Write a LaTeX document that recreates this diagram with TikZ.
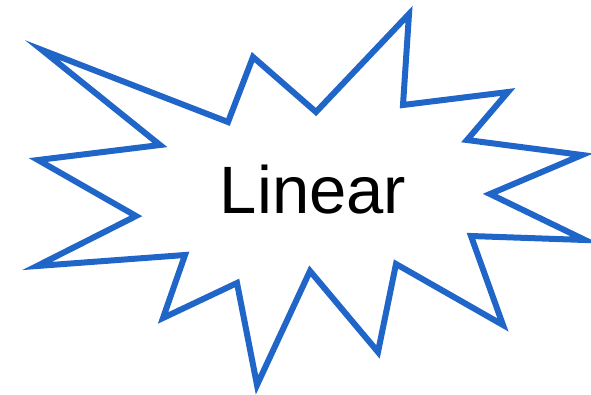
\documentclass[tikz,border=0pt]{standalone}
\usepackage{fontspec}
\setmainfont{Liberation Sans}
\definecolor{burstblue}{RGB}{32,102,200}
\begin{document}
\begin{tikzpicture}[x=1pt,y=-1pt,
  burst/.style={draw=burstblue,line width=6pt,line join=miter,miter limit=20,fill=white},
  label/.style={font=\fontsize{67}{67}\selectfont,text=black,inner sep=0pt,anchor=base}]
\useasboundingbox (0,0) rectangle (591,394);
\draw[burst] (42,50) -- (228,122) -- (253,57) -- (316,112) -- (409,14) -- (403,105)
  -- (508,92) -- (467,140) -- (582,155) -- (490,194) -- (585,240) -- (471,236)
  -- (503,325) -- (396,264) -- (378,352) -- (310,271) -- (257,385) -- (237,283)
  -- (163,318) -- (185,255) -- (37,266) -- (136,216) -- (38,160) -- (160,145) -- cycle;
\node[label] (t) at (313,213) {Linear};
\end{tikzpicture}
\end{document}
